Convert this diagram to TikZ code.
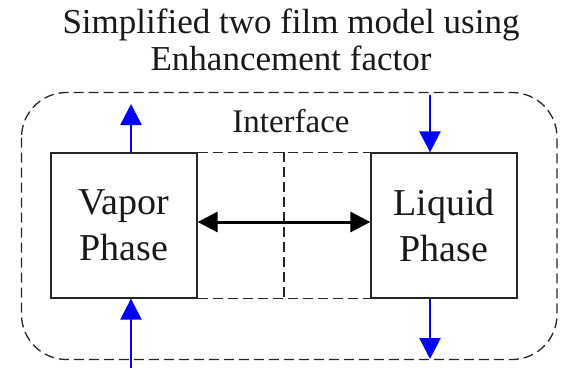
\documentclass[tikz,border=0pt]{standalone}
\usepackage{fontspec}
\setmainfont{Liberation Serif}
\newfontfamily\timesface{Liberation Serif}
\usetikzlibrary{arrows.meta,calc}
\begin{document}
\begin{tikzpicture}[x=1pt,y=-1pt,
  every node/.style={text=black!90},
  phase/.style={draw=black!85,line width=1.3pt,minimum width=146pt,minimum height=145pt,inner sep=0pt,align=center,font=\timesface\fontsize{38}{46}\selectfont},
  flow/.style={blue,line width=2.6pt,-{Triangle[length=21pt,width=21pt]}},
  dashline/.style={draw=black!85,dash pattern=on 10pt off 5pt,line width=1.3pt},
  lbl/.style={align=center}]
\useasboundingbox (0,0) rectangle (564,368);
% title
\node[lbl,font=\timesface\fontsize{35}{37}\selectfont] (title) at (291,39.5) {Simplified two film model using\\Enhancement factor};
% outer boundary of the system
\draw[dashline,rounded corners=45pt] (21.5,92.5) rectangle (557,359.5);
% the two phases
\node[phase] (vap) at (124,225.5) {Vapor\\Phase};
\node[phase] (liq) at (444,225.5) {Liquid\\Phase};
% interface region
\draw[dashline] (vap.north east) -- (liq.north west);
\draw[dashline] (vap.south east) -- (liq.south west);
\coordinate (mt) at ($(vap.north east)!0.5!(liq.north west)$);
\coordinate (mb) at ($(vap.south east)!0.5!(liq.south west)$);
\draw[dashline] (mt) -- (mb);
\node[font=\timesface\fontsize{33}{36}\selectfont,anchor=base] (intf) at (291,132) {Interface};
% transfer between phases
\coordinate (ml) at (vap.east |- 0,222);
\coordinate (mr) at (liq.west |- 0,222);
\draw[line width=3pt,{Triangle[length=20pt,width=20pt]}-{Triangle[length=20pt,width=20pt]}] (ml) -- (mr);
% flows in and out
\coordinate (vin) at (131,368);
\coordinate (vout) at (131,104);
\coordinate (lin) at (430,95);
\coordinate (lout) at (430,359);
\draw[flow] (vin) -- (vap.south -| vin);
\draw[flow] (vap.north -| vout) -- (vout);
\draw[flow] (lin) -- (liq.north -| lin);
\draw[flow] (liq.south -| lout) -- (lout);
\end{tikzpicture}
\end{document}
